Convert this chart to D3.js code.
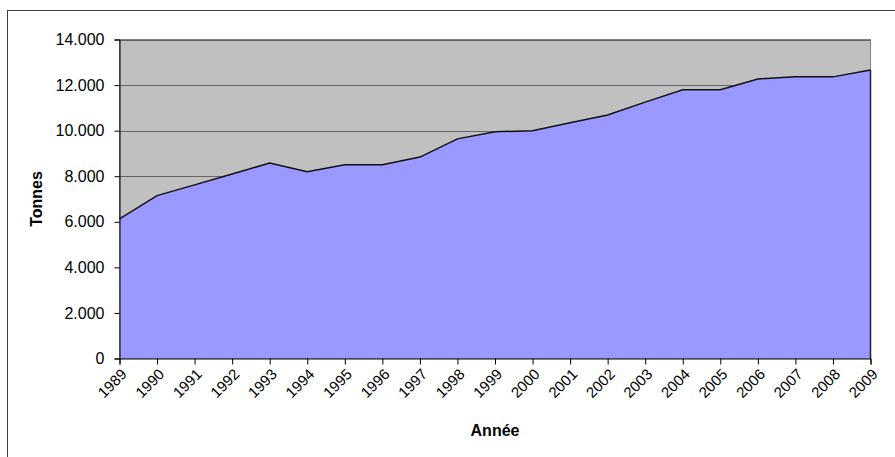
<!DOCTYPE html>
<html><head><meta charset="utf-8">
<script src="https://cdn.jsdelivr.net/npm/d3@7"></script>
<style>body{margin:0;background:#fff;}svg{display:block;font-family:"Liberation Sans",Arial,sans-serif;}</style>
</head><body>
<svg id="c" width="895" height="457"></svg>
<script>
const years = ["1989","1990","1991","1992","1993","1994","1995","1996","1997","1998","1999","2000","2001","2002","2003","2004","2005","2006","2007","2008","2009"];
const tonnes = [6130,7150,7620,8100,8575,8200,8500,8500,8840,9640,9950,10000,10350,10690,11250,11790,11800,12270,12360,12360,12660];
const yTicks = [0,2000,4000,6000,8000,10000,12000,14000];
const yTickLabels = ["0","2.000","4.000","6.000","8.000","10.000","12.000","14.000"];

const svg = d3.select("#c");
const L = 119.5, R = 870.5, T = 39.5, B = 358.5;
const x = d3.scalePoint().domain(years).range([L, R]);
const y = d3.scaleLinear().domain([0, 14000]).range([B, T]);

// outer frame
svg.append("rect").attr("x",7.5).attr("y",10.5).attr("width",900).attr("height",460)
  .attr("fill","none").attr("stroke","#404040").attr("stroke-width",1);

// plot background
svg.append("rect").attr("x",L).attr("y",T).attr("width",R-L).attr("height",B-T)
  .attr("fill","#C0C0C0").attr("stroke","#808080").attr("stroke-width",1);

// gridlines
svg.append("g").selectAll("line").data(yTicks.filter(d=>d>0)).join("line")
  .attr("x1",L).attr("x2",R).attr("y1",d=>Math.round(y(d))+0.5).attr("y2",d=>Math.round(y(d))+0.5)
  .attr("stroke","#666").attr("stroke-width",1);

// area
const data = years.map((yr,i)=>({yr, v:tonnes[i]}));
svg.append("path").datum(data)
  .attr("d", d3.area().x(d=>x(d.yr)).y0(B).y1(d=>y(d.v)))
  .attr("fill","#9999FF");
svg.append("path").datum(data)
  .attr("d", d3.line().x(d=>x(d.yr)).y(d=>y(d.v)))
  .attr("fill","none").attr("stroke","#111").attr("stroke-width",1.5);
svg.append("line").attr("x1",R).attr("x2",R).attr("y1",y(tonnes[tonnes.length-1])).attr("y2",B)
  .attr("stroke","#222").attr("stroke-width",1.5);

// y axis
const yAxis = d3.axisLeft(y).tickValues(yTicks).tickFormat((d,i)=>yTickLabels[i]).tickSizeOuter(0).tickSize(5).tickPadding(10);
const gy = svg.append("g").attr("transform",`translate(${L},0)`).call(yAxis);
gy.select(".domain").attr("stroke","#000");
gy.selectAll(".tick line").attr("stroke","#000");
gy.selectAll("text").attr("font-size",16).attr("fill","#000").attr("font-family","Liberation Sans, Arial, sans-serif");

// x axis
const xAxis = d3.axisBottom(x).tickSizeOuter(0).tickSize(6).tickPadding(4);
const gx = svg.append("g").attr("transform",`translate(0,${B})`).call(xAxis);
gx.select(".domain").attr("stroke","#000");
gx.selectAll(".tick line").attr("stroke","#000");
gx.selectAll("text").attr("font-size",15).attr("fill","#000")
  .attr("font-family","Liberation Sans, Arial, sans-serif")
  .attr("text-anchor","end").attr("x",0).attr("y",0).attr("dy","0.35em")
  .attr("transform","translate(4,13) rotate(-45)");

// titles
svg.append("text").attr("x",(L+R)/2).attr("y",436).attr("text-anchor","middle")
  .attr("font-size",16).attr("font-weight","bold").text("Année");
svg.append("text").attr("transform",`translate(42,${(T+B)/2}) rotate(-90)`).attr("text-anchor","middle")
  .attr("font-size",16).attr("font-weight","bold").text("Tonnes");
</script>
</body></html>
